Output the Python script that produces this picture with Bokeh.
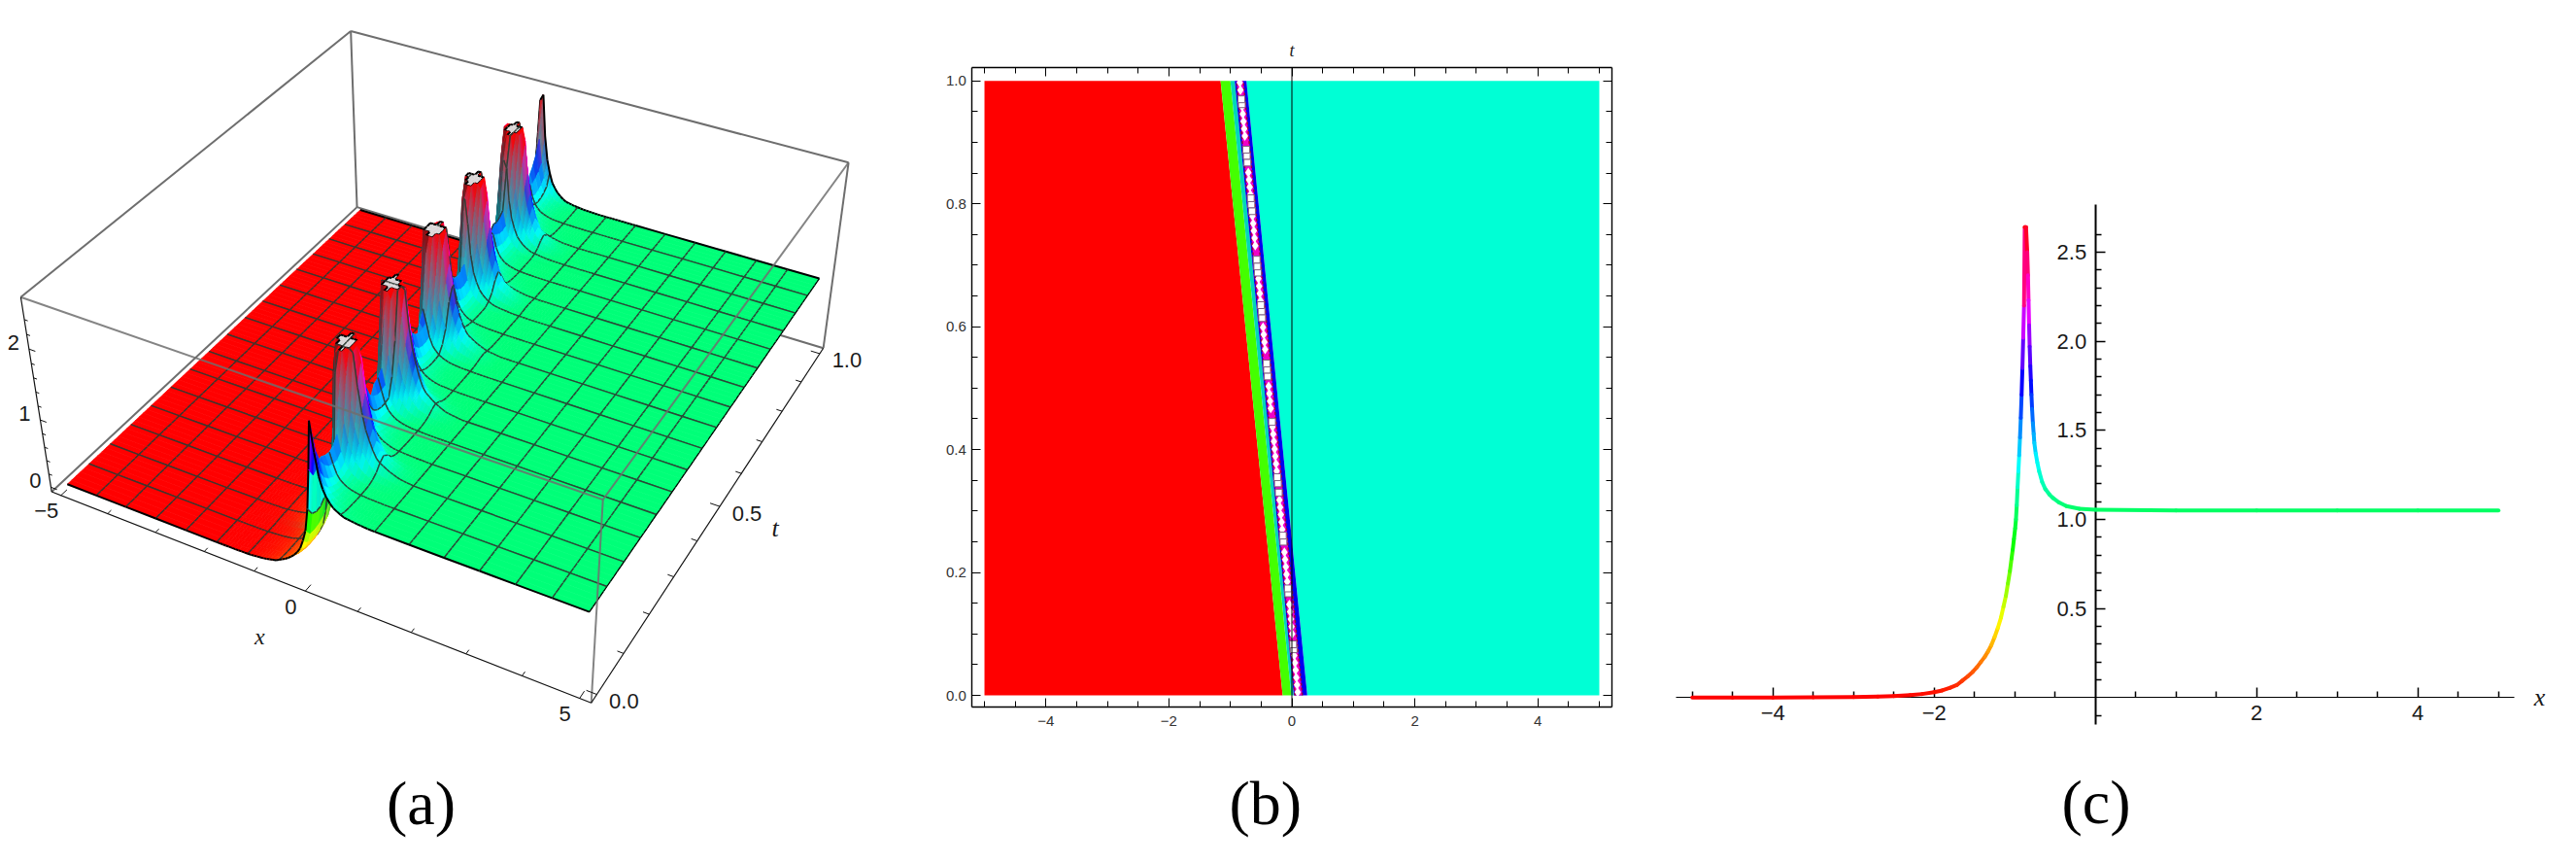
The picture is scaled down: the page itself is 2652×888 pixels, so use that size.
import colorsys
import numpy as np
from bokeh.core.properties import value
from bokeh.embed import file_html
from bokeh.resources import INLINE
from bokeh.layouts import row
from bokeh.models import Range1d, LinearAxis, FixedTicker
from bokeh.plotting import figure

FONT = "Liberation Sans"
SERIF = "Liberation Serif"

# ---------- panel (c): section of the solution ----------
c_x = [-5, -4.5, -4, -3.5, -3, -2.7, -2.5, -2.3, -2.15, -2.0, -1.9, -1.8, -1.72, -1.65, -1.58, -1.52, -1.47, -1.42,
       -1.37, -1.33, -1.29, -1.25, -1.21, -1.17, -1.14, -1.11, -1.085, -1.06, -1.04, -1.025, -1.01, -0.995, -0.985,
       -0.975, -0.965, -0.955, -0.945, -0.935, -0.925, -0.915, -0.905, -0.895, -0.885, -0.876, -0.86, -0.845, -0.836,
       -0.829, -0.822, -0.815, -0.807, -0.80, -0.793, -0.785, -0.775, -0.765, -0.757, -0.74, -0.72, -0.697, -0.66,
       -0.62, -0.57, -0.526, -0.45, -0.36, -0.2, 0, 1, 2, 3, 4, 5]
c_y = [0.0, 0.0, 0.0, 0.001, 0.003, 0.006, 0.009, 0.014, 0.02, 0.03, 0.04, 0.055, 0.07, 0.095, 0.12, 0.145, 0.17, 0.2,
       0.23, 0.26, 0.295, 0.34, 0.39, 0.45, 0.51, 0.57, 0.64, 0.71, 0.78, 0.83, 0.89, 0.95, 1.0, 1.08, 1.18, 1.27, 1.36,
       1.46, 1.57, 1.7, 1.85, 2.02, 2.2, 2.64, 2.64, 2.5, 2.37, 2.23, 2.09, 1.97, 1.86, 1.78, 1.7, 1.62, 1.54, 1.48, 1.43,
       1.37, 1.32, 1.27, 1.21, 1.17, 1.14, 1.12, 1.095, 1.075, 1.06, 1.055, 1.05, 1.05, 1.05, 1.05, 1.05]
c_xticks = [-4, -2, 2, 4]
c_xminor = [-5, -4.5, -3.5, -3, -2.5, -1.5, -1, -0.5, 0.5, 1, 1.5, 2.5, 3, 3.5, 4.5, 5]
c_yticks = [0.5, 1.0, 1.5, 2.0, 2.5]
c_yminor = [-0.1, 0.1, 0.2, 0.3, 0.4, 0.6, 0.7, 0.8, 0.9, 1.1, 1.2, 1.3, 1.4, 1.6, 1.7, 1.8, 1.9, 2.1, 2.2, 2.3, 2.4, 2.6]

# ---------- panel (b): density plot bands ----------
b_t = [0, 1]
b_red_edge = [-0.15, -1.16]
b_green_edge = [-0.01, -1.0]
b_blue_left = [0.03, -0.93]
b_magenta_left = [0.05, -0.90]
b_magenta_right = [0.17, -0.79]
b_blue_right = [0.25, -0.74]
b_centre = [0.10, -0.85]
b_xticks = [-4, -2, 0, 2, 4]
b_xminor = [-5, -4.5, -3.5, -3, -2.5, -1.5, -1, -0.5, 0.5, 1, 1.5, 2.5, 3, 3.5, 4.5, 5]
b_yticks = [0.0, 0.2, 0.4, 0.6, 0.8, 1.0]
b_yminor = [0.05, 0.1, 0.15, 0.25, 0.3, 0.35, 0.45, 0.5, 0.55, 0.65, 0.7, 0.75, 0.85, 0.9, 0.95]
b_square_t = [0.075, 0.083, 0.166, 0.174, 0.25, 0.26, 0.33, 0.345, 0.355, 0.445, 0.519, 0.53, 0.54, 0.614, 0.625, 0.635,
              0.688, 0.698, 0.709, 0.788, 0.799, 0.809, 0.867, 0.878, 0.888, 0.962, 0.97]
b_bead_t = [0.005, 0.017, 0.029, 0.041, 0.053, 0.065, 0.10, 0.112, 0.124, 0.136, 0.148, 0.185, 0.197, 0.209, 0.221, 0.233,
            0.27, 0.282, 0.294, 0.306, 0.318, 0.365, 0.377, 0.389, 0.401, 0.413, 0.425, 0.437, 0.467, 0.479, 0.491, 0.503,
            0.563, 0.575, 0.587, 0.599, 0.642, 0.654, 0.666, 0.678, 0.732, 0.744, 0.756, 0.768, 0.78, 0.815, 0.827, 0.839,
            0.851, 0.91, 0.922, 0.934, 0.946, 0.958, 0.985, 0.997]

# ---------- panel (a): surface ----------
a_ridge_t = [0, 1]
a_ridge_x = [0.10, -0.86]
a_ridge_height = [2.35, 1.9, 1.7, 1.6, 1.55, 1.55, 1.6, 1.75, 2.5, 4.0, 7.0, 9.0, 7.0, 3.8, 2.4, 2.0, 1.8, 1.65, 1.6, 1.6,
                  1.65, 1.75, 2.5, 4.0, 7.0, 9.0, 7.0, 3.8, 2.4, 2.0, 1.8, 1.65, 1.6, 1.6, 1.65, 1.75, 2.5, 4.0, 7.0, 9.0,
                  7.0, 3.8, 2.4, 2.0, 1.8, 1.65, 1.6, 1.6, 1.65, 1.75, 2.5, 4.0, 7.0, 9.0, 7.0, 3.8, 2.4, 2.0, 1.8, 1.65,
                  1.6, 1.6, 1.6, 1.65, 1.75, 2.5, 4.0, 7.0, 9.0, 7.0, 3.8, 2.4, 2.0, 1.8, 1.65, 1.6, 1.6, 1.7, 1.85, 2.1, 2.9]
a_left_u = [0, 0.03, 0.06, 0.1, 0.15, 0.2, 0.3, 0.4, 0.5, 0.6, 0.8, 1.0, 1.3, 1.6, 2.0]
a_left_z = [2.64, 1.9, 1.45, 1.15, 0.82, 0.65, 0.42, 0.31, 0.23, 0.17, 0.08, 0.04, 0.01, 0.003, 0.0]
a_core_u = [0, 0.05, 0.1, 0.15, 0.2, 0.3, 0.4]
a_core_f = [1, 0.8, 0.6, 0.4, 0.25, 0.1, 0.0]
a_right_u = [0, 0.03, 0.06, 0.1, 0.15, 0.2, 0.3, 0.4, 0.5, 0.6, 0.8, 1.0, 1.3]
a_right_f = [1, 0.92, 0.78, 0.55, 0.38, 0.27, 0.15, 0.09, 0.055, 0.03, 0.015, 0.005, 0]
a_plateau = 1.05
a_clip = 2.64
a_x_major = [-5, 0, 5]
a_x_minor = [-4, -3, -2, -1, 1, 2, 3, 4]
a_t_major = [0.0, 0.5, 1.0]
a_t_minor = [0.1, 0.2, 0.3, 0.4, 0.6, 0.7, 0.8, 0.9]
a_z_major = [0, 1, 2]
a_z_minor = [0.2, 0.4, 0.6, 0.8, 1.2, 1.4, 1.6, 1.8, 2.2, 2.4]

# box limits of the 3D axes, and where its corners lie on the page (camera calibration)
BX, BT, BZ = (-5.2, 5.2), (-0.02, 1.02), (-0.07, 2.7)
CAMERA = [((0, 0, 0), (52.7, 506)), ((1, 0, 0), (607.7, 722.7)), ((1, 1, 0), (847, 358)), ((0, 1, 0), (367.6, 212)),
          ((0, 0, 1), (21, 305)), ((1, 0, 1), (620.7, 513.3)), ((1, 1, 1), (873.3, 166.7)), ((0, 1, 1), (360, 32))]


def fit_camera():
    A, b = [], []
    for (i, j, k), (u, v) in CAMERA:
        X, Y, Z = BX[i], BT[j], BZ[k]
        A.append([X, Y, Z, 1, 0, 0, 0, 0, -u * X, -u * Y, -u * Z]); b.append(u)
        A.append([0, 0, 0, 0, X, Y, Z, 1, -v * X, -v * Y, -v * Z]); b.append(v)
    return np.append(np.linalg.lstsq(np.array(A), np.array(b), rcond=None)[0], 1).reshape(3, 4)


P = fit_camera()


def proj(x, t, z):
    x, t, z = np.asarray(x, float), np.asarray(t, float), np.asarray(z, float)
    w = P[2, 0] * x + P[2, 1] * t + P[2, 2] * z + P[2, 3]
    return (P[0, 0] * x + P[0, 1] * t + P[0, 2] * z + P[0, 3]) / w, (P[1, 0] * x + P[1, 1] * t + P[1, 2] * z + P[1, 3]) / w


def hue_rgb(h):
    r, g, b = colorsys.hsv_to_rgb(h % 1.0, 1, 1)
    return np.array([r, g, b]) * 255


def to_hex(c):
    c = np.clip(np.round(c), 0, 255).astype(int)
    return "#%02x%02x%02x" % tuple(c)


# ---------- build surface ----------
def surface_height(x, t, h):
    u = x - np.interp(t, a_ridge_t, a_ridge_x)
    if u < 0:
        base = np.interp(-u, a_left_u, a_left_z)
        if h < a_clip:
            z = base * h / a_clip
        else:
            z = base + (h - a_clip) * np.interp(-u, a_core_u, a_core_f)
    else:
        z = a_plateau + (h - a_plateau) * np.interp(u, a_right_u, a_right_f)
    return min(z, a_clip)


x_cols = [-5 + 0.625 * k for k in range(6)] + [-1.875 + 0.0625 * k for k in range(1, 51)] + [1.25 + 0.625 * k for k in range(1, 7)]
x_cols = sorted(set(round(v, 4) for v in x_cols))
x_mesh = set(round(-5 + 0.625 * k, 4) for k in range(1, 16))
n_t = len(a_ridge_height)
t_rows = [k / (n_t - 1) for k in range(n_t)]
Z = np.array([[surface_height(x, t_rows[j], a_ridge_height[j]) for x in x_cols] for j in range(n_t)])
capped = Z >= a_clip - 1e-9
GX, GT = np.meshgrid(x_cols, t_rows)
SX, SY = proj(GX, GT, Z)

sx, sy, fill, fa, lc, lw, la = [], [], [], [], [], [], []


def add_poly(xs, ys, f, l, w):
    sx.append(xs); sy.append(ys); fill.append(f); fa.append(1.0); lc.append(l); lw.append(w); la.append(1.0)


def add_seg(j0, i0, j1, i1, l, w, a=1.0):
    sx.append([SX[j0, i0], SX[j1, i1]]); sy.append([SY[j0, i0], SY[j1, i1]])
    fill.append("#000000"); fa.append(0.0); lc.append(l); lw.append(w); la.append(a)


MESH = "#2e3a32"
FACE_TOP = np.array([228, 18, 25])
FACE_LOW = np.array([0, 215, 225])
STRIPS = 6
nx = len(x_cols)


def face_colour(zq, slope, darken):
    base = hue_rgb(min(zq / 2.55, 1.0))
    s = min(1.0, max(0.0, slope / 30.0)) * 0.94
    w = min(1.0, max(0.0, (a_clip - zq) / (a_clip - 1.3)))
    c = base * (1 - s) + s * (FACE_TOP * (1 - w) + FACE_LOW * w)
    return to_hex(c * (1 - s * darken))


for j in range(n_t - 2, -1, -1):
    row_x0 = np.interp(t_rows[j], a_ridge_t, a_ridge_x)
    for i in range(nx - 1):
        zq = (Z[j, i] + Z[j, i + 1] + Z[j + 1, i] + Z[j + 1, i + 1]) / 4
        cap = capped[j, i] and capped[j, i + 1] and capped[j + 1, i] and capped[j + 1, i + 1]
        slope = ((Z[j + 1, i] + Z[j + 1, i + 1]) - (Z[j, i] + Z[j, i + 1])) / 2 * (n_t - 1)
        left_side = (x_cols[i] + x_cols[i + 1]) / 2 < row_x0
        darken = 0.38 if left_side else 0.0
        if cap:
            add_poly([SX[j, i], SX[j, i + 1], SX[j + 1, i + 1], SX[j + 1, i]],
                     [SY[j, i], SY[j, i + 1], SY[j + 1, i + 1], SY[j + 1, i]], "#dcdcdc", "#dcdcdc", 0.7)
        elif abs(slope) > 10:
            # a steep cell is shaded in strips so that its colour runs smoothly from top to bottom
            for m in range(STRIPS - 1, -1, -1):
                a0, a1 = m / STRIPS, (m + 1) / STRIPS
                xa0, ya0 = SX[j, i] + a0 * (SX[j + 1, i] - SX[j, i]), SY[j, i] + a0 * (SY[j + 1, i] - SY[j, i])
                xb0, yb0 = SX[j, i + 1] + a0 * (SX[j + 1, i + 1] - SX[j, i + 1]), SY[j, i + 1] + a0 * (SY[j + 1, i + 1] - SY[j, i + 1])
                xa1, ya1 = SX[j, i] + a1 * (SX[j + 1, i] - SX[j, i]), SY[j, i] + a1 * (SY[j + 1, i] - SY[j, i])
                xb1, yb1 = SX[j, i + 1] + a1 * (SX[j + 1, i + 1] - SX[j, i + 1]), SY[j, i + 1] + a1 * (SY[j + 1, i + 1] - SY[j, i + 1])
                zm = (Z[j, i] + Z[j, i + 1]) / 2 * (1 - (a0 + a1) / 2) + (Z[j + 1, i] + Z[j + 1, i + 1]) / 2 * (a0 + a1) / 2
                col = face_colour(zm, slope, darken)
                add_poly([xa0, xb0, xb1, xa1], [ya0, yb0, yb1, ya1], col, col, 0.6)
        else:
            col = face_colour(zq, slope, darken)
            add_poly([SX[j, i], SX[j, i + 1], SX[j + 1, i + 1], SX[j + 1, i]],
                     [SY[j, i], SY[j, i + 1], SY[j + 1, i + 1], SY[j + 1, i]], col, col, 0.7)
        # mesh lines lying on the edges of this cell
        for jj in (j, j + 1):
            if 0 < jj < n_t - 1 and jj % 5 == 0:
                add_seg(jj, i, jj, i + 1, MESH, 1.4, 0.9)
        for ii in (i, i + 1):
            if x_cols[ii] in x_mesh:
                add_seg(j, ii, j + 1, ii, MESH, 1.4, 0.9)
        # surface boundary
        if j == 0:
            add_seg(0, i, 0, i + 1, "#000000", 2.0)
        if j == n_t - 2:
            add_seg(n_t - 1, i, n_t - 1, i + 1, "#000000", 2.0)
        if i == nx - 2:
            add_seg(j, nx - 1, j + 1, nx - 1, "#000000", 1.3)
        # outline of the clipped caps
        if cap:
            if j == 0 or not (capped[j - 1, i] and capped[j - 1, i + 1]):
                add_seg(j, i, j, i + 1, "#000000", 2)
            if j + 2 >= n_t or not (capped[j + 2, i] and capped[j + 2, i + 1]):
                add_seg(j + 1, i, j + 1, i + 1, "#000000", 2)
            if i == 0 or not (capped[j, i - 1] and capped[j + 1, i - 1]):
                add_seg(j, i, j + 1, i, "#000000", 2)
            if i + 2 >= nx or not (capped[j, i + 2] and capped[j + 1, i + 2]):
                add_seg(j, i + 1, j + 1, i + 1, "#000000", 2)


def make_figure(width, xr, yr):
    f = figure(width=width, height=872, output_backend="svg", toolbar_location=None, x_range=Range1d(*xr),
               y_range=Range1d(*yr), min_border=0, min_border_left=0, min_border_right=0, min_border_top=0,
               min_border_bottom=0, outline_line_color=None, x_axis_type=None, y_axis_type=None, frame_align=False)
    f.grid.visible = False
    return f


def big_label(fig, x, y, text):
    fig.text([x], [y], text=[text], text_font=value(SERIF), text_font_size="64px", text_align="center",
             text_baseline="middle", text_color="#000000")


# ---------- figure (a) ----------
pa = make_figure(892, (0, 892), (872, 0))


def box_lines(edges):
    xs, ys = [], []
    for a, b in edges:
        u, v = proj([BX[a[0]], BX[b[0]]], [BT[a[1]], BT[b[1]]], [BZ[a[2]], BZ[b[2]]])
        xs.append(list(u)); ys.append(list(v))
    return xs, ys


back = [((0, 1, 1), (1, 1, 1)), ((0, 1, 1), (0, 0, 1)), ((0, 1, 1), (0, 1, 0)), ((1, 1, 1), (1, 1, 0)),
        ((0, 0, 0), (0, 1, 0)), ((0, 1, 0), (1, 1, 0))]
front = [((0, 0, 1), (1, 0, 1)), ((1, 0, 1), (1, 1, 1)), ((1, 0, 1), (1, 0, 0))]
axes3 = [((0, 0, 0), (1, 0, 0)), ((1, 0, 0), (1, 1, 0)), ((0, 0, 0), (0, 0, 1))]

xs, ys = box_lines(back)
pa.multi_line(xs, ys, line_color="#6e6e6e", line_width=2)
pa.patches(xs=sx, ys=sy, fill_color=fill, fill_alpha=fa, line_color=lc, line_width=lw, line_alpha=la)
xs, ys = box_lines(front)
pa.multi_line(xs, ys, line_color="#6e6e6e", line_width=2, line_alpha=0.85)
xs, ys = box_lines(axes3)
pa.multi_line(xs, ys, line_color="#111111", line_width=1.2)


def tick_set(values, kind, major):
    xs, ys = [], []
    for v in values:
        if kind == "x":
            a = proj(v, BT[0], BZ[0]); b = proj(v, BT[0] + (0.017 if major else 0.01), BZ[0])
        elif kind == "t":
            a = proj(BX[1], v, BZ[0]); b = proj(BX[1] - (0.18 if major else 0.11), v, BZ[0])
        else:
            a = proj(BX[0], BT[0], v); b = proj(BX[0] + (0.13 if major else 0.07), BT[0], v)
        xs.append([float(a[0]), float(b[0])]); ys.append([float(a[1]), float(b[1])])
    return xs, ys


for vals, kind, major in [(a_x_major, "x", True), (a_x_minor, "x", False), (a_t_major, "t", True),
                          (a_t_minor, "t", False), (a_z_major, "z", True), (a_z_minor, "z", False)]:
    xs, ys = tick_set(vals, kind, major)
    pa.multi_line(xs, ys, line_color="#111111", line_width=1)


def axis_text(fig, labels, anchors, dx, dy, font=FONT, size="22px", style="normal"):
    u = [float(proj(*a)[0]) for a in anchors]
    v = [float(proj(*a)[1]) for a in anchors]
    fig.text(u, v, text=labels, x_offset=dx, y_offset=dy, text_font=value(font), text_font_size=size,
             text_font_style=style, text_align="center", text_baseline="middle", text_color="#1a1a1a")


axis_text(pa, ["\u22125", "0", "5"], [(v, BT[0], BZ[0]) for v in a_x_major], -15, 16)
axis_text(pa, ["0.0", "0.5", "1.0"], [(BX[1], v, BZ[0]) for v in a_t_major], 28, 7)
axis_text(pa, ["0", "1", "2"], [(BX[0], BT[0], v) for v in a_z_major], -16, -7)
axis_text(pa, ["x"], [(0, BT[0], BZ[0])], -47, 47, font=SERIF, size="24px", style="italic")
axis_text(pa, ["t"], [(BX[1], 0.5, BZ[0])], 57, 22, font=SERIF, size="26px", style="italic")
big_label(pa, 433, 826, "(a)")

# ---------- figure (b) ----------
B_XL, B_XR = -5.2, 5.2
B_YB, B_YT = -0.0195, 1.021
pb = make_figure(820, (-6.912, 6.043), (-0.2483, 1.1308))


def band(left, right, colour):
    pb.patch(left + right[::-1], b_t + b_t[::-1], fill_color=colour, line_color=None)


band([-5, -5], b_red_edge, "#ff0000")
band(b_red_edge, b_green_edge, "#44ff00")
band(b_green_edge, b_blue_left, "#00d8b8")
band(b_blue_right, [5, 5], "#00ffd5")
band(b_blue_left, b_blue_right, "#0000f0")
band(b_magenta_left, b_magenta_right, "#f000c8")
pb.line(b_magenta_left, b_t, line_color="#a00040", line_width=1.5, line_dash=[3, 2])
pb.line(b_magenta_right, b_t, line_color="#a00040", line_width=1.5, line_dash=[3, 2])
bead_x = np.interp(b_bead_t, b_t, b_centre)
square_x = np.interp(b_square_t, b_t, b_centre)
pb.scatter(bead_x, b_bead_t, marker="diamond", size=10, fill_color="#ffffff", line_color=None)
pb.scatter(square_x, b_square_t, marker="square", size=7, fill_color="#ffffff", line_color="#806080", line_width=1)
pb.line([0, 0], [B_YB, B_YT], line_color="#000000", line_width=1)


def frame_axis(fig, side, ticks, minor, location, bounds, show, overrides):
    ax = LinearAxis(ticker=FixedTicker(ticks=ticks, minor_ticks=minor), fixed_location=location, bounds=bounds,
                    major_tick_in=9, major_tick_out=0, minor_tick_in=6, minor_tick_out=0, axis_line_color="#000000",
                    axis_line_width=1.4, major_tick_line_color="#000000", minor_tick_line_color="#000000",
                    major_label_overrides=overrides if show else {v: "" for v in ticks})
    ax.major_label_text_font = FONT
    ax.major_label_text_font_size = "15px"
    ax.major_label_text_color = "#333333"
    ax.major_label_standoff = 9 if side == "below" else (6 if side == "left" else 0)
    fig.add_layout(ax, side)
    return ax


b_xlabels = {-4: "\u22124", -2: "\u22122", 0: "0", 2: "2", 4: "4"}
b_ylabels = {v: "%.1f" % v for v in b_yticks}
frame_axis(pb, "below", b_xticks, b_xminor, B_YB, (B_XL, B_XR), True, b_xlabels)
frame_axis(pb, "left", b_yticks, b_yminor, B_XL, (B_YB, B_YT), True, b_ylabels)
frame_axis(pb, "above", b_xticks, b_xminor, B_YT, (B_XL, B_XR), False, b_xlabels)
frame_axis(pb, "right", b_yticks, b_yminor, B_XR, (B_YB, B_YT), False, b_ylabels)
pb.text([0], [1.05], text=["t"], text_font=value(SERIF), text_font_style="italic", text_font_size="18px",
        text_align="center", text_baseline="middle", text_color="#222222")
big_label(pb, -0.43, -0.176, "(b)")

# ---------- figure (c) ----------
pc = make_figure(924, (-5.358, 5.775), (-0.844, 3.913))
x0, x1, y0, y1, cols = [], [], [], [], []
for k in range(len(c_x) - 1):
    x0.append(c_x[k]); x1.append(c_x[k + 1]); y0.append(c_y[k]); y1.append(c_y[k + 1])
    cols.append(to_hex(hue_rgb(min((c_y[k] + c_y[k + 1]) / 2 / 2.64, 1.0))))
pc.segment(x0, y0, x1, y1, line_color=cols, line_width=4, line_cap="round")

ax_x = LinearAxis(ticker=FixedTicker(ticks=c_xticks, minor_ticks=c_xminor), fixed_location=0, bounds=(-5.2, 5.2),
                  major_tick_in=10, major_tick_out=0, minor_tick_in=6, minor_tick_out=0, axis_line_color="#000000",
                  axis_line_width=1.2, major_tick_line_width=1.5, minor_tick_line_width=1.5,
                  major_tick_line_color="#000000", minor_tick_line_color="#000000", major_label_text_font=FONT,
                  major_label_text_font_size="22px", major_label_text_color="#1a1a1a", major_label_standoff=8,
                  major_label_overrides={-4: "\u22124", -2: "\u22122", 2: "2", 4: "4"}, level="underlay")
ax_y = LinearAxis(ticker=FixedTicker(ticks=c_yticks, minor_ticks=c_yminor), fixed_location=0, bounds=(-0.15, 2.77),
                  major_tick_in=10, major_tick_out=0, minor_tick_in=6, minor_tick_out=0, axis_line_color="#000000",
                  axis_line_width=2, major_tick_line_width=1.5, minor_tick_line_width=1.5,
                  major_tick_line_color="#000000", minor_tick_line_color="#000000", major_label_text_font=FONT,
                  major_label_text_font_size="22px", major_label_text_color="#1a1a1a", major_label_standoff=9,
                  major_label_overrides={v: "%.1f" % v for v in c_yticks}, level="underlay")
pc.add_layout(ax_x, "below")
pc.add_layout(ax_y, "left")
pc.text([5.51], [0.0], text=["x"], text_font=value(SERIF), text_font_style="italic", text_font_size="26px",
        text_align="center", text_baseline="middle", text_color="#1a1a1a")
big_label(pc, 0.01, -0.59, "(c)")

open("out.html", "w").write(file_html(row(pa, pb, pc), INLINE))
